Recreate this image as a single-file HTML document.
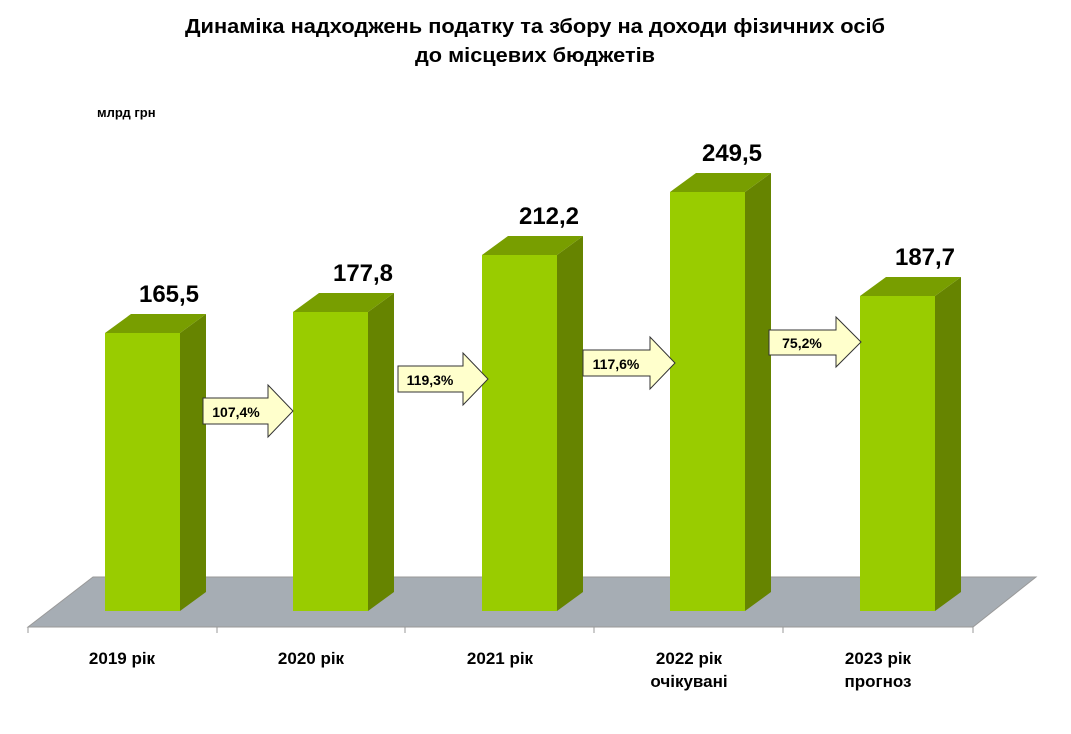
<!DOCTYPE html>
<html><head><meta charset="utf-8"><style>
body{margin:0;background:#fff;width:1071px;height:729px;overflow:hidden;font-family:"Liberation Sans","DejaVu Sans",sans-serif}
</style></head><body>
<svg width="1071" height="729" xmlns="http://www.w3.org/2000/svg" font-family="Liberation Sans, DejaVu Sans, sans-serif" font-weight="bold">
<text x="535" y="33" font-size="20" text-anchor="middle" textLength="700" lengthAdjust="spacingAndGlyphs">Динаміка надходжень податку та збору  на доходи фізичних осіб</text>
<text x="535" y="62" font-size="20" text-anchor="middle" textLength="240" lengthAdjust="spacingAndGlyphs">до місцевих бюджетів</text>
<text x="97" y="117" font-size="13">млрд грн</text>
<polygon points="28,627 93,577 1036,577 973,627" fill="#a6adb4" stroke="#999" stroke-width="1"/>
<g stroke="#999" stroke-width="1">
<line x1="28" y1="627" x2="973" y2="627"/>
<line x1="28" y1="627" x2="28" y2="633"/><line x1="217" y1="627" x2="217" y2="633"/><line x1="405" y1="627" x2="405" y2="633"/><line x1="594" y1="627" x2="594" y2="633"/><line x1="783" y1="627" x2="783" y2="633"/><line x1="973" y1="627" x2="973" y2="633"/>
</g>
<g id="bars">
<polygon points="180,333 206,314 206,592 180,611" fill="#668400"/><polygon points="105,333 131,314 206,314 180,333" fill="#789e00"/><rect x="105" y="333" width="75" height="278" fill="#99cc00"/>
<polygon points="368,312 394,293 394,592 368,611" fill="#668400"/><polygon points="293,312 319,293 394,293 368,312" fill="#789e00"/><rect x="293" y="312" width="75" height="299" fill="#99cc00"/>
<polygon points="557,255 583,236 583,592 557,611" fill="#668400"/><polygon points="482,255 508,236 583,236 557,255" fill="#789e00"/><rect x="482" y="255" width="75" height="356" fill="#99cc00"/>
<polygon points="745,192 771,173 771,592 745,611" fill="#668400"/><polygon points="670,192 696,173 771,173 745,192" fill="#789e00"/><rect x="670" y="192" width="75" height="419" fill="#99cc00"/>
<polygon points="935,296 961,277 961,592 935,611" fill="#668400"/><polygon points="860,296 886,277 961,277 935,296" fill="#789e00"/><rect x="860" y="296" width="75" height="315" fill="#99cc00"/>
</g>
<g font-size="24" text-anchor="middle">
<text x="169" y="302">165,5</text><text x="363" y="281">177,8</text><text x="549" y="224">212,2</text><text x="732" y="161">249,5</text><text x="925" y="265">187,7</text>
</g>
<g fill="#ffffcc" stroke="#333" stroke-width="1">
<polygon points="203,398 268,398 268,385 293,411 268,437 268,424 203,424"/>
<polygon points="398,366 463,366 463,353 488,379 463,405 463,392 398,392"/>
<polygon points="583,350 650,350 650,337 675,363 650,389 650,376 583,376"/>
<polygon points="769,330 836,330 836,317 861,342 836,367 836,355 769,355"/>
</g>
<g font-size="14" text-anchor="middle">
<text x="236" y="417">107,4%</text><text x="430" y="385">119,3%</text><text x="616" y="369">117,6%</text><text x="802" y="348">75,2%</text>
</g>
<g font-size="17" text-anchor="middle">
<text x="122" y="664">2019 рік</text><text x="311" y="664">2020 рік</text><text x="500" y="664">2021 рік</text>
<text x="689" y="664">2022 рік</text><text x="689" y="687">очікувані</text>
<text x="878" y="664">2023 рік</text><text x="878" y="687">прогноз</text>
</g>
</svg>
</body></html>
